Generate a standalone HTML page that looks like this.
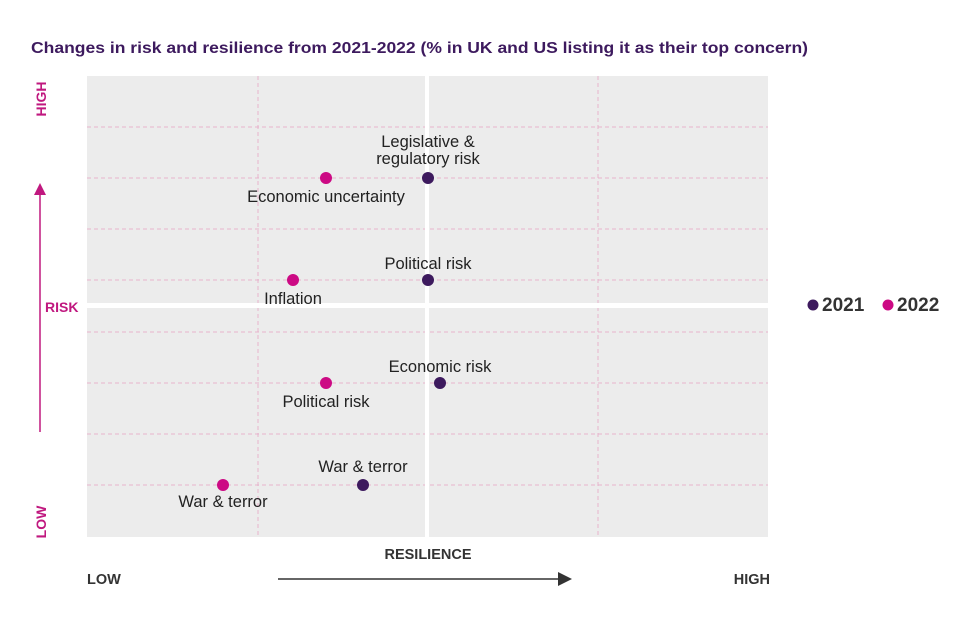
<!DOCTYPE html>
<html><head><meta charset="utf-8"><style>
body{margin:0;background:#fff;width:967px;height:619px;overflow:hidden;font-family:"Liberation Sans",sans-serif}
</style></head><body>
<svg width="967" height="619" xmlns="http://www.w3.org/2000/svg" font-family="Liberation Sans, sans-serif">
<text x="31" y="53" font-size="16" font-weight="bold" fill="#3d1a5e" textLength="777" lengthAdjust="spacingAndGlyphs">Changes in risk and resilience from 2021-2022 (% in UK and US listing it as their top concern)</text>
<rect x="87" y="76" width="681" height="461" fill="#ececec"/>
<g stroke="#e7b3cc" stroke-width="1" stroke-dasharray="4,3">
<line x1="87" x2="768" y1="127" y2="127"/><line x1="87" x2="768" y1="178" y2="178"/>
<line x1="87" x2="768" y1="229" y2="229"/><line x1="87" x2="768" y1="280" y2="280"/>
<line x1="87" x2="768" y1="332" y2="332"/><line x1="87" x2="768" y1="383" y2="383"/>
<line x1="87" x2="768" y1="434" y2="434"/><line x1="87" x2="768" y1="485" y2="485"/>
<line x1="258" x2="258" y1="76" y2="537"/><line x1="598" x2="598" y1="76" y2="537"/>
</g>
<rect x="425" y="76" width="4" height="461" fill="#fff"/>
<rect x="87" y="303" width="681" height="5" fill="#fff"/>
<g fill="#cc0a84"><circle cx="326" cy="178" r="6"/><circle cx="293" cy="280" r="6"/><circle cx="326" cy="383" r="6"/><circle cx="223" cy="485" r="6"/></g>
<g fill="#3d1a5e"><circle cx="428" cy="178" r="6"/><circle cx="428" cy="280" r="6"/><circle cx="440" cy="383" r="6"/><circle cx="363" cy="485" r="6"/></g>
<g font-size="16.5" fill="#222" text-anchor="middle">
<text x="428" y="147">Legislative &amp;</text><text x="428" y="164">regulatory risk</text>
<text x="326" y="202">Economic uncertainty</text>
<text x="428" y="269">Political risk</text>
<text x="293" y="304">Inflation</text>
<text x="440" y="372">Economic risk</text>
<text x="326" y="407">Political risk</text>
<text x="363" y="472">War &amp; terror</text>
<text x="223" y="507">War &amp; terror</text>
</g>
<g fill="#c0187f" font-size="14" font-weight="bold">
<text transform="translate(46,99) rotate(-90)" text-anchor="middle">HIGH</text>
<text transform="translate(46,522) rotate(-90)" text-anchor="middle">LOW</text>
<text x="45" y="312" font-size="14">RISK</text>
</g>
<line x1="40" y1="195" x2="40" y2="432" stroke="#c0187f" stroke-width="1.5"/>
<polygon points="34,195 46,195 40,183" fill="#c0187f"/>
<g font-size="14.5" fill="#333" font-weight="bold">
<text x="428" y="559" text-anchor="middle">RESILIENCE</text>
<text x="87" y="584">LOW</text>
<text x="770" y="584" text-anchor="end">HIGH</text>
</g>
<line x1="278" y1="579" x2="560" y2="579" stroke="#333" stroke-width="1.5"/>
<polygon points="558,572 572,579 558,586" fill="#333"/>
<circle cx="813" cy="305" r="5.5" fill="#3d1a5e"/>
<text x="822" y="311" font-size="19" font-weight="bold" fill="#333">2021</text>
<circle cx="888" cy="305" r="5.5" fill="#cc0a84"/>
<text x="897" y="311" font-size="19" font-weight="bold" fill="#333">2022</text>
</svg>
</body></html>
